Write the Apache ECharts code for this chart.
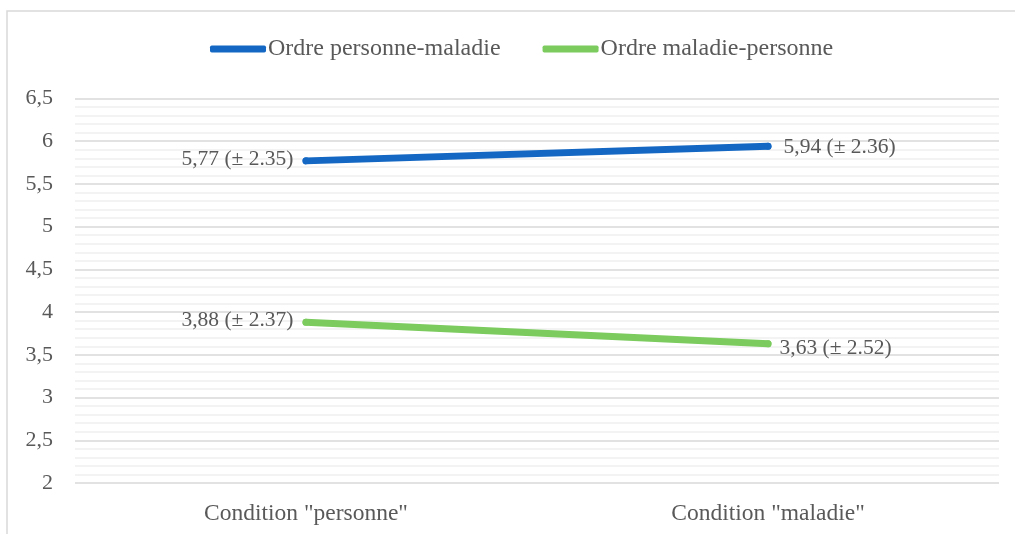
<!DOCTYPE html>
<html>
<head>
<meta charset="utf-8">
<script src="https://cdn.jsdelivr.net/npm/echarts@6/dist/echarts.min.js"></script>
<style>
  html, body { margin: 0; padding: 0; background: #fff; }
  #chart { width: 1015px; height: 534px; }
</style>
</head>
<body>
<div id="chart"></div>
<script>
// Categories and values
const categories = ['Condition "personne"', 'Condition "maladie"'];
const seriesNames = ['Ordre personne-maladie', 'Ordre maladie-personne'];
const meansPersonneMaladie = [5.77, 5.94];
const sdPersonneMaladie = [2.35, 2.36];
const meansMaladiePersonne = [3.88, 3.63];
const sdMaladiePersonne = [2.37, 2.52];
const yTicks = { min: 2, max: 6.5, interval: 0.5 };

const colors = ['#1468c4', '#7bcb5e'];
const textColor = '#595959';
const fontFamily = '"Liberation Serif", "Times New Roman", serif';

function fr(v) { return String(v).replace('.', ','); }

function buildData(means, sds, right) {
  return means.map((m, i) => ({
    value: m,
    label: {
      show: true,
      position: i === 0 ? 'left' : 'right',
      distance: i === 0 ? 9 : right.distance,
      offset: i === 0 ? [0, -2] : [0, right.dy],
      formatter: fr(m) + ' (\u00b1 ' + sds[i].toFixed(2) + ')',
      color: textColor,
      fontFamily: fontFamily,
      fontSize: 21.5
    }
  }));
}

const chart = echarts.init(document.getElementById('chart'), null, { renderer: 'canvas' });

// Endpoint dots share the line colour and size, so they merge with the round caps
function lineSeries(name, means, sds, color, right) {
  return {
    name: name,
    type: 'line',
    data: buildData(means, sds, right),
    showSymbol: true,
    symbol: 'circle',
    symbolSize: 7,
    itemStyle: { color: color, borderWidth: 0 },
    color: color,
    lineStyle: { width: 7, cap: 'round', color: color },
    z: 3
  };
}

chart.setOption({
  animation: false,
  backgroundColor: '#ffffff',
  graphic: [{
    type: 'rect',
    shape: { x: 7, y: 11, width: 1100, height: 600 },
    style: { fill: 'none', stroke: '#d9d9d9', lineWidth: 1.5 },
    silent: true
  }],
  legend: {
    left: 205,
    top: 32,
    itemGap: 42,
    itemWidth: 56,
    itemHeight: 7,
    icon: 'roundRect',
    data: seriesNames,
    textStyle: { color: textColor, fontFamily: fontFamily, fontSize: 24, padding: [0, 0, 0, -3] }
  },
  grid: { left: 75, right: 16, top: 98.5, bottom: 51, containLabel: false },
  xAxis: {
    type: 'category',
    data: categories,
    boundaryGap: true,
    axisLine: { show: false },
    axisTick: { show: false },
    axisLabel: { color: textColor, fontFamily: fontFamily, fontSize: 23.5, margin: 19 }
  },
  yAxis: {
    type: 'value',
    min: yTicks.min,
    max: yTicks.max,
    interval: yTicks.interval,
    axisLine: { show: false },
    axisTick: { show: false },
    axisLabel: {
      color: textColor, fontFamily: fontFamily, fontSize: 22, margin: 22,
      formatter: v => fr(v)
    },
    splitLine: { show: true, lineStyle: { color: '#d9d9d9', width: 1.5 } },
    minorTick: { show: false, splitNumber: 5 },
    minorSplitLine: { show: true, lineStyle: { color: '#efefef', width: 1.5 } }
  },
  series: [
    lineSeries(seriesNames[0], meansPersonneMaladie, sdPersonneMaladie, colors[0], { distance: 12, dy: 1 }),
    lineSeries(seriesNames[1], meansMaladiePersonne, sdMaladiePersonne, colors[1], { distance: 8, dy: 5 })
  ]
});
</script>
</body>
</html>
